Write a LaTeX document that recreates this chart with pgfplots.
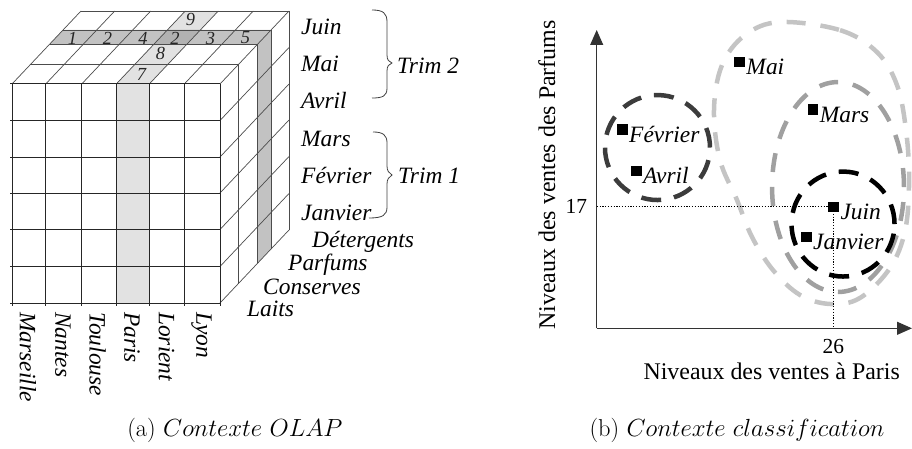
\documentclass[border=0pt]{standalone}
\usepackage{fontspec}
\usepackage{pgfplots}
\pgfplotsset{compat=1.18}
\usetikzlibrary{arrows.meta}
\newfontfamily\tnr{Liberation Serif}
\definecolor{cubelight}{HTML}{E2E2E2}
\definecolor{cubedark}{HTML}{C2C2C2}
\definecolor{cubeinter}{HTML}{B2B2B2}
\definecolor{ellLight}{HTML}{C4C4C4}
\definecolor{ellMid}{HTML}{A0A0A0}
\definecolor{ellDark}{HTML}{3C3C3C}
\tikzset{
  lab/.style={font=\tnr\itshape\fontsize{23.5}{26}\selectfont, inner sep=0pt},
  num/.style={font=\tnr\itshape\fontsize{18.5}{20}\selectfont, inner sep=0pt, text=black!85},
  fl/.style={black!85, line width=1bp},
  sl/.style={black!70, line width=0.7bp},
}
\begin{document}
\begin{tikzpicture}
% ---------------- (a) OLAP cube, drawn on a pixel-unit canvas axis
\begin{axis}[name=base, scale only axis, width=912bp, height=449bp,
  at={(0,0)}, anchor=south west,
  xmin=0, xmax=912, ymin=0, ymax=449, y dir=reverse,
  hide axis, clip=false]
% fills
\fill[cubelight] (116.3,84) rectangle (149.3,303);
\fill[cubelight] (116.3,84) -- (149.3,84) -- (218.3,11) -- (185.3,11) -- cycle;
\fill[cubedark] (49.8,44) -- (257.8,44) -- (271,30) -- (63,30) -- cycle;
\fill[cubeinter] (154.1,44) -- (187.1,44) -- (200.3,30) -- (167.3,30) -- cycle;
\fill[cubedark] (257.8,44) -- (271,30) -- (271,249) -- (257.8,263) -- cycle;
% top face
\draw[sl] (30.4,64.5) -- (238.4,64.5);
\draw[sl] (49.8,44) -- (257.8,44);
\draw[sl] (63,30) -- (271,30);
\draw[sl] (81,11) -- (289,11);
\draw[sl] (12,84) -- (81,11);
\draw[sl] (45.7,84) -- (114.7,11);
\draw[sl] (81.7,84) -- (150.7,11);
\draw[sl] (116.3,84) -- (185.3,11);
\draw[sl] (149.3,84) -- (218.3,11);
\draw[sl] (184.3,84) -- (253.3,11);
\draw[sl] (220,84) -- (289,11);
% right face
\draw[sl] (238.4,64.5) -- (238.4,283.5);
\draw[sl] (257.8,44) -- (257.8,263);
\draw[sl] (271,30) -- (271,249);
\draw[sl] (289,11) -- (289,230);
\draw[sl] (220,120.5) -- (289,47.5);
\draw[sl] (220,157) -- (289,84);
\draw[sl] (220,193) -- (289,120);
\draw[sl] (220,229.5) -- (289,156.5);
\draw[sl] (220,266.5) -- (289,193.5);
\draw[sl] (220,303) -- (289,230);
% front face
\draw[fl] (12,84) -- (12,306);
\draw[fl] (45.7,84) -- (45.7,306);
\draw[fl] (81.7,84) -- (81.7,306);
\draw[fl] (116.3,84) -- (116.3,306);
\draw[fl] (149.3,84) -- (149.3,306);
\draw[fl] (184.3,84) -- (184.3,306);
\draw[fl] (220,84) -- (220,306);
\draw[fl] (10,84) -- (220,84);
\draw[fl] (10,120.5) -- (220,120.5);
\draw[fl] (10,157) -- (220,157);
\draw[fl] (10,193) -- (220,193);
\draw[fl] (10,229.5) -- (220,229.5);
\draw[fl] (10,266.5) -- (220,266.5);
\draw[fl] (10,303) -- (220,303);
% cell values
\node[num] at (72.5,38) {1};
\node[num] at (107.5,38) {2};
\node[num] at (143,38) {4};
\node[num] at (175,38) {2};
\node[num] at (210.5,38) {3};
\node[num] at (245.5,38) {5};
\node[num] at (141.5,74.5) {7};
\node[num] at (160.5,53) {8};
\node[num] at (190.5,19) {9};
% months
\node[lab, anchor=base west] at (301,35) {Juin};
\node[lab, anchor=base west] at (301,72) {Mai};
\node[lab, anchor=base west] at (301,109) {Avril};
\node[lab, anchor=base west] at (301,146) {Mars};
\node[lab, anchor=base west] at (301,183) {Février};
\node[lab, anchor=base west] at (301,220) {Janvier};
% braces
\draw[black!75, line width=0.8bp] (372,10) .. controls (383,10) and (387,13) .. (387,22) -- (387,55)
  .. controls (387,60) and (389,62) .. (392,63) .. controls (389,64) and (387,66) .. (387,71)
  -- (387,88) .. controls (387,96) and (383,98) .. (372,98);
\draw[black!75, line width=0.8bp] (373,132) .. controls (383,132) and (387,135) .. (387,143) -- (387,166)
  .. controls (387,171) and (389,173) .. (392,175) .. controls (389,177) and (387,179) .. (387,184)
  -- (387,207) .. controls (387,215) and (383,218) .. (369,218);
\node[lab, anchor=base west] at (397,74) {Trim 2};
\node[lab, anchor=base west] at (398,183) {Trim 1};
% products
\node[lab, anchor=base west] at (312,247) {Détergents};
\node[lab, anchor=base west] at (288,270) {Parfums};
\node[lab, anchor=base west] at (263,294) {Conserves};
\node[lab, anchor=base west] at (247,316) {Laits};
% cities
\node[lab, rotate=-90, anchor=west] at (28,312) {Marseille};
\node[lab, rotate=-90, anchor=west] at (63,312) {Nantes};
\node[lab, rotate=-90, anchor=west] at (97.5,312) {Toulouse};
\node[lab, rotate=-90, anchor=west] at (132,312) {Paris};
\node[lab, rotate=-90, anchor=west] at (166.5,312) {Lorient};
\node[lab, rotate=-90, anchor=west] at (201.5,312) {Lyon};
% captions
\node[anchor=base, inner sep=0pt, font=\fontsize{24.5}{28}\selectfont] at (235,436) {(a) $Contexte\ OLAP$};
\node[anchor=base, inner sep=0pt, font=\fontsize{24.5}{28}\selectfont] at (737,436) {(b) $Contexte\ classification$};
\end{axis}
% ---------------- (b) classification scatter
\begin{axis}[
  scale only axis, at={(596.7bp,120.7bp)}, anchor=south west,
  width=315.3bp, height=298.3bp,
  xmin=0, xmax=34.65, ymin=0, ymax=41.72,
  axis lines=left,
  axis line style={black!80, line width=1.1bp},
  x axis line style={-{Triangle[length=15bp,width=13bp]}},
  y axis line style={-{Triangle[length=15bp,width=13bp]}},
  xtick={26}, ytick={17},
  major tick length=0pt,
  tick label style={font=\tnr\fontsize{21.5}{23}\selectfont, inner sep=0pt},
  /pgf/number format/assume math mode=true,
  xticklabel style={yshift=-11bp},
  yticklabel style={xshift=-9.5bp},
  xlabel={Niveaux des ventes à Paris},
  ylabel={Niveaux des ventes des Parfums},
  label style={font=\tnr\fontsize{24}{27}\selectfont, inner sep=0pt},
  xlabel style={at={(axis description cs:0.555,-0.171)}, anchor=base},
  ylabel style={at={(axis description cs:-0.132,0.514)}, anchor=base},
  clip=false,
]
% cluster outlines
\draw[ellLight, line width=4.5bp, dash pattern=on 19bp off 15bp]
  plot[smooth cycle, tension=0.6] coordinates {
  (20.15,42.83) (26.74,41.70) (30.80,38.63) (33.00,34.01) (33.99,27.72) (34.33,20.73)
  (33.90,13.74) (32.23,8.43) (28.93,4.24) (25.64,3.40) (22.34,4.66) (19.37,8.15)
  (17.07,12.76) (15.42,17.94) (13.55,23.53) (12.89,30.52) (13.77,36.81) (16.30,41.01)};
\draw[ellMid, line width=4.5bp, dash pattern=on 19bp off 15bp]
  (axis cs:26.52,19.76) ellipse [x radius=7.25, y radius=14.68];
\draw[black, line width=4.5bp, dash pattern=on 20bp off 13bp]
  (axis cs:27.07,14.58) ellipse [x radius=5.66, y radius=7.34];
\draw[ellDark, line width=4.5bp, dash pattern=on 20bp off 13bp]
  (axis cs:6.68,25.28) ellipse [x radius=5.77, y radius=7.34];
% reference lines
\addplot[black, line width=1.2bp, dash pattern=on 1.2bp off 1.6bp] coordinates {(0,17) (26,17) (26,0)};
% months
\addplot[only marks, mark=square*, mark size=4.8pt, black] coordinates {
  (15.67,37.27) (23.74,30.62) (2.78,27.86) (4.32,22.03) (26,17) (23.0,12.81)};
\node[lab, anchor=base west, xshift=7bp, yshift=-13bp] at (axis cs:15.67,37.27) {Mai};
\node[lab, anchor=base west, xshift=7bp, yshift=-13bp] at (axis cs:23.74,30.62) {Mars};
\node[lab, anchor=base west, xshift=7bp, yshift=-13bp] at (axis cs:2.78,27.86) {Février};
\node[lab, anchor=base west, xshift=7bp, yshift=-13bp] at (axis cs:4.32,22.03) {Avril};
\node[lab, anchor=base west, xshift=7bp, yshift=-13bp] at (axis cs:26,17) {Juin};
\node[lab, anchor=base west, xshift=7bp, yshift=-13bp] at (axis cs:23.0,12.81) {Janvier};
\end{axis}
\pgfresetboundingbox
\path (0,0) rectangle (912bp,449bp);
\end{tikzpicture}
\end{document}
